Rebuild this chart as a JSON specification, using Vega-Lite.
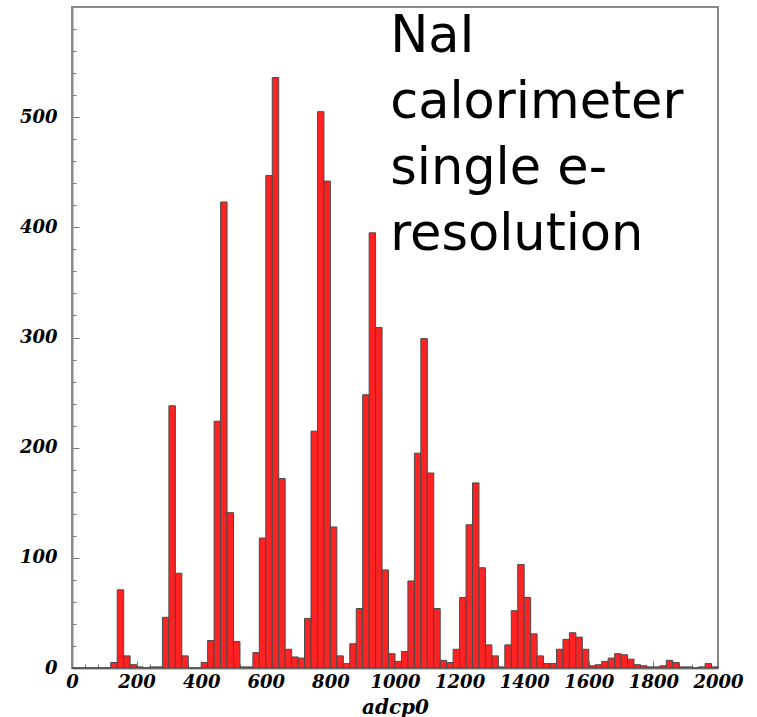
{
  "$schema": "https://vega.github.io/schema/vega-lite/v6.json",
  "width": 646,
  "height": 661,
  "autosize": {"type": "none"},
  "padding": {"left": 72, "top": 7, "right": 39, "bottom": 49},
  "background": "white",
  "config": {
    "view": {"stroke": "#8a8a8a", "strokeWidth": 2},
    "axis": {"grid": false}
  },
  "datasets": {
    "hist": [
      {"lo": 0, "hi": 20, "n": 0}, {"lo": 20, "hi": 40, "n": 0}, {"lo": 40, "hi": 60, "n": 0}, {"lo": 60, "hi": 80, "n": 0}, {"lo": 80, "hi": 100, "n": 0},
      {"lo": 100, "hi": 120, "n": 0}, {"lo": 120, "hi": 140, "n": 5}, {"lo": 140, "hi": 160, "n": 71}, {"lo": 160, "hi": 180, "n": 11}, {"lo": 180, "hi": 200, "n": 3},
      {"lo": 200, "hi": 220, "n": 1}, {"lo": 220, "hi": 240, "n": 0}, {"lo": 240, "hi": 260, "n": 1}, {"lo": 260, "hi": 280, "n": 1}, {"lo": 280, "hi": 300, "n": 46},
      {"lo": 300, "hi": 320, "n": 238}, {"lo": 320, "hi": 340, "n": 86}, {"lo": 340, "hi": 360, "n": 11}, {"lo": 360, "hi": 380, "n": 0}, {"lo": 380, "hi": 400, "n": 0},
      {"lo": 400, "hi": 420, "n": 5}, {"lo": 420, "hi": 440, "n": 25}, {"lo": 440, "hi": 460, "n": 224}, {"lo": 460, "hi": 480, "n": 423}, {"lo": 480, "hi": 500, "n": 141},
      {"lo": 500, "hi": 520, "n": 24}, {"lo": 520, "hi": 540, "n": 1}, {"lo": 540, "hi": 560, "n": 1}, {"lo": 560, "hi": 580, "n": 14}, {"lo": 580, "hi": 600, "n": 118},
      {"lo": 600, "hi": 620, "n": 447}, {"lo": 620, "hi": 640, "n": 536}, {"lo": 640, "hi": 660, "n": 172}, {"lo": 660, "hi": 680, "n": 17}, {"lo": 680, "hi": 700, "n": 10},
      {"lo": 700, "hi": 720, "n": 9}, {"lo": 720, "hi": 740, "n": 45}, {"lo": 740, "hi": 760, "n": 215}, {"lo": 760, "hi": 780, "n": 505}, {"lo": 780, "hi": 800, "n": 442},
      {"lo": 800, "hi": 820, "n": 128}, {"lo": 820, "hi": 840, "n": 11}, {"lo": 840, "hi": 860, "n": 4}, {"lo": 860, "hi": 880, "n": 22}, {"lo": 880, "hi": 900, "n": 54},
      {"lo": 900, "hi": 920, "n": 248}, {"lo": 920, "hi": 940, "n": 395}, {"lo": 940, "hi": 960, "n": 309}, {"lo": 960, "hi": 980, "n": 89}, {"lo": 980, "hi": 1000, "n": 13},
      {"lo": 1000, "hi": 1020, "n": 6}, {"lo": 1020, "hi": 1040, "n": 15}, {"lo": 1040, "hi": 1060, "n": 79}, {"lo": 1060, "hi": 1080, "n": 195}, {"lo": 1080, "hi": 1100, "n": 299},
      {"lo": 1100, "hi": 1120, "n": 177}, {"lo": 1120, "hi": 1140, "n": 54}, {"lo": 1140, "hi": 1160, "n": 7}, {"lo": 1160, "hi": 1180, "n": 5}, {"lo": 1180, "hi": 1200, "n": 17},
      {"lo": 1200, "hi": 1220, "n": 64}, {"lo": 1220, "hi": 1240, "n": 130}, {"lo": 1240, "hi": 1260, "n": 168}, {"lo": 1260, "hi": 1280, "n": 91}, {"lo": 1280, "hi": 1300, "n": 21},
      {"lo": 1300, "hi": 1320, "n": 11}, {"lo": 1320, "hi": 1340, "n": 1}, {"lo": 1340, "hi": 1360, "n": 21}, {"lo": 1360, "hi": 1380, "n": 52}, {"lo": 1380, "hi": 1400, "n": 94},
      {"lo": 1400, "hi": 1420, "n": 64}, {"lo": 1420, "hi": 1440, "n": 31}, {"lo": 1440, "hi": 1460, "n": 11}, {"lo": 1460, "hi": 1480, "n": 4}, {"lo": 1480, "hi": 1500, "n": 4},
      {"lo": 1500, "hi": 1520, "n": 17}, {"lo": 1520, "hi": 1540, "n": 26}, {"lo": 1540, "hi": 1560, "n": 32}, {"lo": 1560, "hi": 1580, "n": 28}, {"lo": 1580, "hi": 1600, "n": 17},
      {"lo": 1600, "hi": 1620, "n": 2}, {"lo": 1620, "hi": 1640, "n": 3}, {"lo": 1640, "hi": 1660, "n": 6}, {"lo": 1660, "hi": 1680, "n": 9}, {"lo": 1680, "hi": 1700, "n": 13},
      {"lo": 1700, "hi": 1720, "n": 12}, {"lo": 1720, "hi": 1740, "n": 8}, {"lo": 1740, "hi": 1760, "n": 3}, {"lo": 1760, "hi": 1780, "n": 2}, {"lo": 1780, "hi": 1800, "n": 1},
      {"lo": 1800, "hi": 1820, "n": 1}, {"lo": 1820, "hi": 1840, "n": 2}, {"lo": 1840, "hi": 1860, "n": 7}, {"lo": 1860, "hi": 1880, "n": 5}, {"lo": 1880, "hi": 1900, "n": 1},
      {"lo": 1900, "hi": 1920, "n": 1}, {"lo": 1920, "hi": 1940, "n": 0}, {"lo": 1940, "hi": 1960, "n": 1}, {"lo": 1960, "hi": 1980, "n": 4}, {"lo": 1980, "hi": 2000, "n": 1}
    ],
    "note": [
      {"x": 985, "y": 559, "label": ["NaI", "calorimeter", "single e-", "resolution"]}
    ]
  },
  "resolve": {"axis": {"x": "independent", "y": "independent"}},
  "layer": [
    {
      "data": {"name": "hist"},
      "mark": {"type": "rect", "fill": "#ff2222", "stroke": "#4a4a4a", "strokeWidth": 1},
      "encoding": {
        "x": {
          "field": "lo", "type": "quantitative",
          "scale": {"domain": [0, 2000], "nice": false, "zero": false},
          "axis": {
            "orient": "bottom", "title": "adcp0", "values": [0, 200, 400, 600, 800, 1000, 1200, 1400, 1600, 1800, 2000],
            "format": "d", "tickSize": -7, "tickColor": "#777", "domainColor": "#8a8a8a", "domainWidth": 2,
            "labelPadding": 12, "labelFont": "DejaVu Serif", "labelFontWeight": "bold", "labelFontStyle": "italic",
            "labelFontSize": 18, "labelColor": "#000", "labelFlush": false, "labelOverlap": false, "labelDx": -3,
            "titleFont": "DejaVu Serif", "titleFontWeight": "bold", "titleFontStyle": "italic", "titleFontSize": 20,
            "titleColor": "#000", "titlePadding": 6
          }
        },
        "x2": {"field": "hi"},
        "y": {
          "field": "n", "type": "quantitative",
          "scale": {"domain": [0, 600], "nice": false},
          "axis": {
            "orient": "left", "title": null, "values": [0, 100, 200, 300, 400, 500],
            "format": "d", "tickSize": -7, "tickColor": "#777", "domainColor": "#8a8a8a", "domainWidth": 2,
            "labelPadding": 22, "labelFont": "DejaVu Serif", "labelFontWeight": "bold", "labelFontStyle": "italic",
            "labelFontSize": 18, "labelColor": "#000", "labelFlush": false, "labelOverlap": false
          }
        },
        "y2": {"datum": 0}
      }
    },
    {
      "data": {"name": "hist"},
      "mark": {"type": "point", "opacity": 0},
      "encoding": {
        "x": {
          "field": "lo", "type": "quantitative",
          "axis": {
            "orient": "bottom", "title": null, "labels": false, "domain": false,
            "values": [40, 80, 120, 160, 240, 280, 320, 360, 440, 480, 520, 560, 640, 680, 720, 760, 840, 880, 920, 960, 1040, 1080, 1120, 1160, 1240, 1280, 1320, 1360, 1440, 1480, 1520, 1560, 1640, 1680, 1720, 1760, 1840, 1880, 1920, 1960],
            "tickSize": -4, "tickColor": "#777"
          }
        },
        "y": {
          "field": "n", "type": "quantitative",
          "axis": {
            "orient": "left", "title": null, "labels": false, "domain": false,
            "values": [20, 40, 60, 80, 120, 140, 160, 180, 220, 240, 260, 280, 320, 340, 360, 380, 420, 440, 460, 480, 520, 540, 560, 580],
            "tickSize": -4, "tickColor": "#777"
          }
        }
      }
    },
    {
      "data": {"name": "note"},
      "mark": {"type": "text", "align": "left", "baseline": "alphabetic", "font": "DejaVu Sans", "fontSize": 51, "lineHeight": 66, "color": "#000"},
      "encoding": {
        "x": {"field": "x", "type": "quantitative", "axis": null},
        "y": {"field": "y", "type": "quantitative", "axis": null},
        "text": {"field": "label"}
      }
    }
  ]
}
